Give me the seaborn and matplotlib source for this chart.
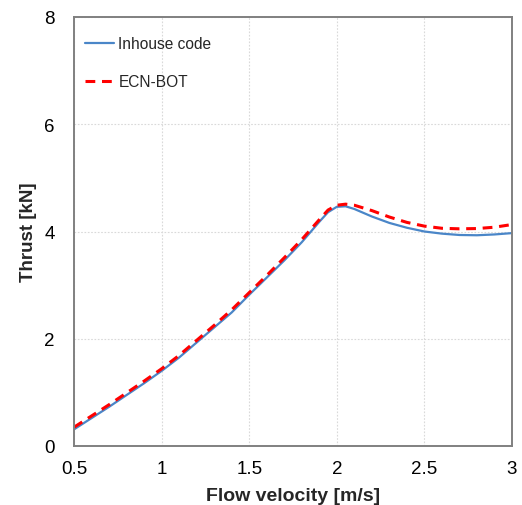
import numpy as np
import pandas as pd
import matplotlib
matplotlib.use("Agg")
import matplotlib.pyplot as plt
import seaborn as sns

velocity = [0.5, 0.6, 0.7, 0.8, 0.9, 1.0, 1.1, 1.2, 1.3, 1.4, 1.5, 1.6, 1.7, 1.8, 1.9,
            1.95, 2.0, 2.05, 2.1, 2.2, 2.3, 2.4, 2.5, 2.6, 2.7, 2.8, 2.9, 3.0]
inhouse = [0.31, 0.52, 0.73, 0.95, 1.17, 1.40, 1.65, 1.93, 2.21, 2.49, 2.82, 3.14, 3.46,
           3.80, 4.18, 4.36, 4.46, 4.47, 4.42, 4.28, 4.16, 4.07, 4.00, 3.96, 3.935, 3.93,
           3.945, 3.97]
ecn_bot = [0.35, 0.56, 0.77, 0.99, 1.21, 1.44, 1.69, 1.97, 2.25, 2.54, 2.86, 3.18, 3.51,
           3.85, 4.22, 4.40, 4.49, 4.51, 4.49, 4.39, 4.27, 4.17, 4.10, 4.06, 4.05, 4.055,
           4.08, 4.13]
x_ticks = [0.5, 1, 1.5, 2, 2.5, 3]
x_tick_labels = ["0.5", "1", "1.5", "2", "2.5", "3"]
y_ticks = [0, 2, 4, 6, 8]

sns.set_style("white")
plt.rcParams['font.family'] = ['Liberation Sans', 'DejaVu Sans']

fig = plt.figure(figsize=(5.22, 5.06), dpi=100)
ax = fig.add_axes([74/522, 59/506, 438/522, 429/506])

df = pd.DataFrame({"v": velocity, "a": inhouse, "b": ecn_bot})
sns.lineplot(data=df, x="v", y="a", ax=ax, color="#4a86c8", lw=1.6, label="Inhouse code")
sns.lineplot(data=df, x="v", y="b", ax=ax, color="#ff0000", lw=2.2,
             linestyle=(0, (3.2, 2.2)), label="ECN-BOT")

ax.set_xlim(0.5, 3)
ax.set_ylim(0, 8)
ax.set_xticks(x_ticks)
ax.set_xticklabels(x_tick_labels)
ax.set_yticks(y_ticks)
ax.grid(True, color="#d9d9d9", linestyle=(0, (1.5, 1.5)), linewidth=0.8)
for s in ax.spines.values():
    s.set_color("#808080")
    s.set_linewidth(1.4)
ax.tick_params(direction="in", length=5, width=1.2, color="#808080",
               labelsize=13.5, labelcolor="black")
ax.tick_params(axis="x", pad=10)
ax.tick_params(axis="y", pad=14)
ax.set_xlabel("Flow velocity [m/s]", fontsize=14, fontweight="bold", labelpad=7)
ax.set_ylabel("Thrust [kN]", fontsize=13.5, fontweight="bold", labelpad=5)

leg = ax.legend(loc="upper left", frameon=False, fontsize=11.2, handlelength=1.9,
                handletextpad=0.25, labelspacing=1.45, borderaxespad=0.3,
                bbox_to_anchor=(0.0, 0.98))

fig.savefig("out.png", dpi=100)
